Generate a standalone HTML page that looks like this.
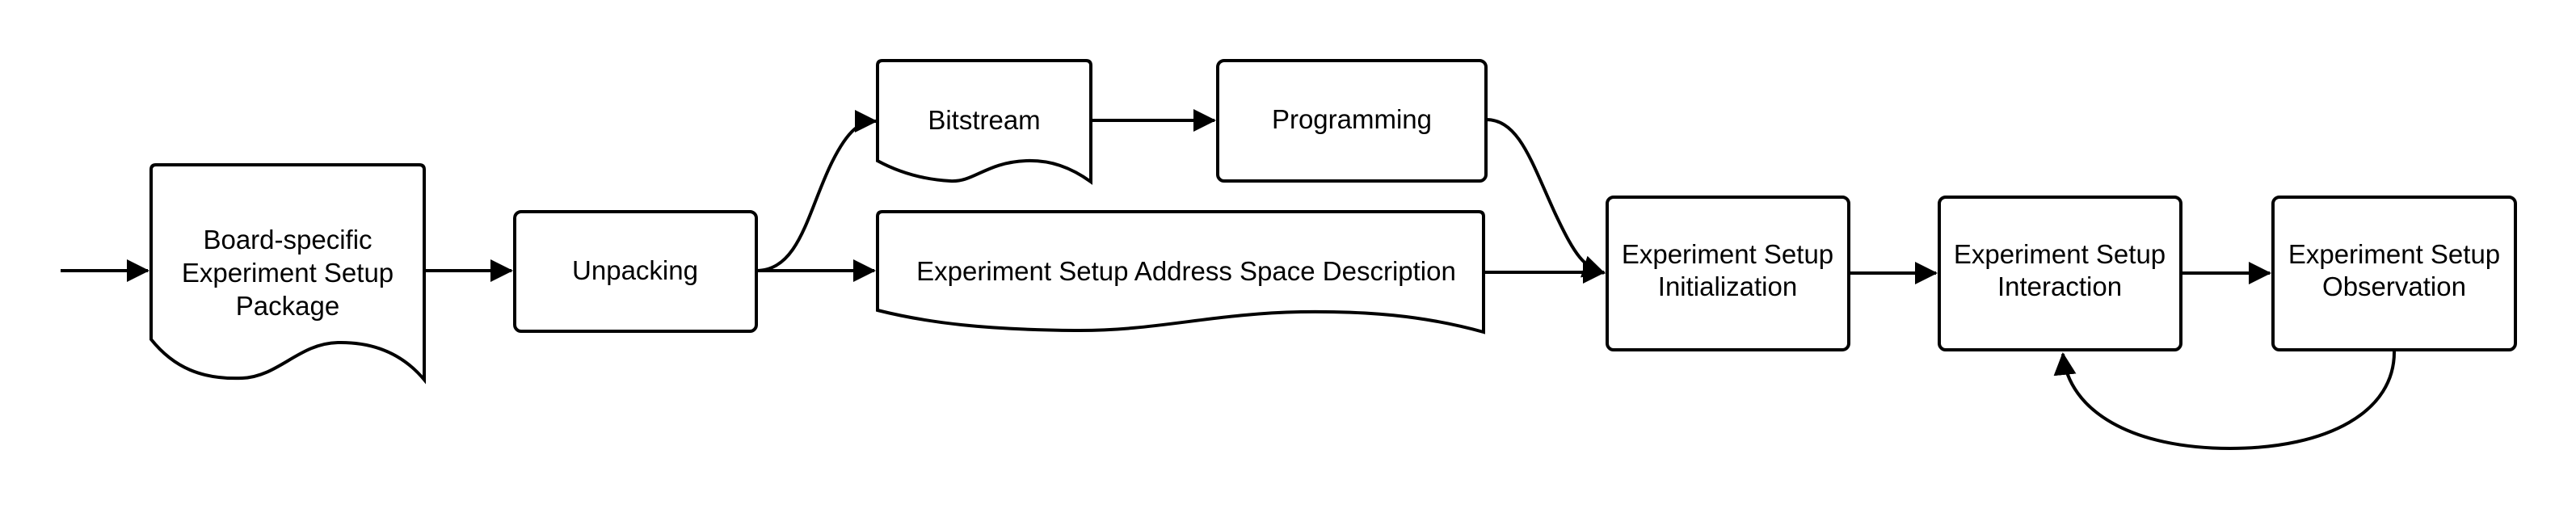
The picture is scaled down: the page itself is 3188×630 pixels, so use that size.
<!DOCTYPE html>
<html><head><meta charset="utf-8"><style>
html,body{margin:0;padding:0;background:#fff;}
svg{display:block;}
text{font-family:"Liberation Sans",Arial,sans-serif;font-size:33px;fill:#000;text-anchor:middle;}
</style></head><body>
<svg width="3188" height="630" viewBox="0 0 3188 630" xmlns="http://www.w3.org/2000/svg">
<defs>
<marker id="a" markerWidth="7" markerHeight="7" refX="6.5" refY="3.5" orient="auto" markerUnits="strokeWidth">
<path d="M0,0 L7,3.5 L0,7 z" fill="#000"/>
</marker>
</defs>
<g fill="none" stroke="#000" stroke-width="4">
<path d="M193,204 H519 Q525,204 525,210 V470 C500,440 465,423 418,424 C370,425 345,466 300,468 C250,470 215,455 187,420 V210 Q187,204 193,204 Z" fill="#fff"/>
<rect x="637" y="262" width="299" height="148" rx="8" fill="#fff"/>
<path d="M1092,75 H1344 Q1350,75 1350,81 V225 C1325,207 1300,198 1270,199 C1220,201 1205,226 1176,224 C1140,222 1110,212 1086,199 V81 Q1086,75 1092,75 Z" fill="#fff"/>
<rect x="1507" y="75" width="332" height="149" rx="8" fill="#fff"/>
<path d="M1092,262 H1830 Q1836,262 1836,268 V411 C1760,390 1690,385 1610,386 C1500,388 1430,410 1330,409 C1220,408 1150,400 1086,384 V268 Q1086,262 1092,262 Z" fill="#fff"/>
<rect x="1989" y="244" width="299" height="189" rx="8" fill="#fff"/>
<rect x="2400" y="244" width="299" height="189" rx="8" fill="#fff"/>
<rect x="2813" y="244" width="300" height="189" rx="8" fill="#fff"/>
<path d="M75,335 H183" marker-end="url(#a)"/>
<path d="M525,335 H633" marker-end="url(#a)"/>
<path d="M936,335 H1082" marker-end="url(#a)"/>
<path d="M936,335 C990,335 1000,260 1030,200 C1050,160 1065,150 1084,150" marker-end="url(#a)"/>
<path d="M1350,149 H1503" marker-end="url(#a)"/>
<path d="M1839,148 C1880,148 1895,200 1925,265 C1950,318 1960,330 1985,338" marker-end="url(#a)"/>
<path d="M1836,337 H1985" marker-end="url(#a)"/>
<path d="M2288,338 H2396" marker-end="url(#a)"/>
<path d="M2699,338 H2809" marker-end="url(#a)"/>
<path d="M2963,433 C2965,510 2880,555 2760,555 C2640,555 2560,510 2553,438" marker-end="url(#a)"/>
</g>
<text x="356" y="308">Board-specific</text>
<text x="356" y="349">Experiment Setup</text>
<text x="356" y="390">Package</text>
<text x="786" y="346">Unpacking</text>
<text x="1218" y="160">Bitstream</text>
<text x="1673" y="159">Programming</text>
<text x="1468" y="347">Experiment Setup Address Space Description</text>
<text x="2138" y="326">Experiment Setup</text>
<text x="2138" y="366">Initialization</text>
<text x="2549" y="326">Experiment Setup</text>
<text x="2549" y="366">Interaction</text>
<text x="2963" y="326">Experiment Setup</text>
<text x="2963" y="366">Observation</text>
</svg>
</body></html>
